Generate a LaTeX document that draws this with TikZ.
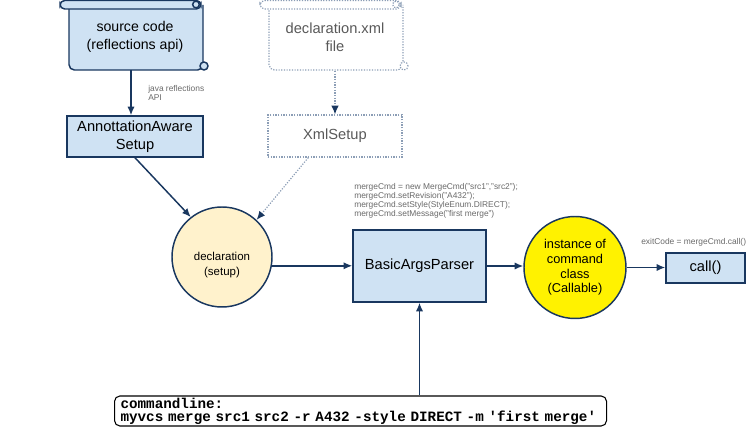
\documentclass[tikz,border=0pt]{standalone}
\usepackage{fontspec}
\setmainfont{Liberation Sans}
\newfontfamily\cmdfont{Liberation Mono}[BoldFont={Liberation Mono Bold}]
\usetikzlibrary{arrows.meta,positioning}
\definecolor{navy}{RGB}{25,55,95}
\definecolor{boxfill}{RGB}{207,226,243}
\definecolor{declfill}{RGB}{255,242,204}
\definecolor{dotgray}{RGB}{140,158,182}
\definecolor{notegray}{RGB}{105,105,105}

\begin{document}
\begin{tikzpicture}[
      x=0.75pt, y=-0.75pt,
      box/.style={rectangle, draw=navy, fill=boxfill, line width=1.1pt, align=center, inner sep=0pt, font=\fontsize{11}{13.5}\selectfont},
      dotbox/.style={rectangle, draw=dotgray, line width=0.9pt, dash pattern=on 0.9pt off 1.1pt, align=center, inner sep=0pt, text=black!65, font=\fontsize{11}{13.5}\selectfont},
      circ/.style={circle, draw=navy, line width=1.1pt, align=center, inner sep=0pt, font=\fontsize{9.6}{11}\selectfont},
      note/.style={inner sep=0pt, align=left, text=notegray, font=\fontsize{6.3}{6.75}\selectfont},
      arrow/.style={-{Latex[length=6.5pt,width=5.5pt]}, draw=navy, line width=1.1pt},
      dotarrow/.style={-{Latex[length=6.5pt,width=5.5pt,color=navy]}, draw=dotgray, line width=0.9pt, dash pattern=on 0.9pt off 1.1pt},
      scroll/.pic={
        \path[pic actions, rounded corners=4pt] (69,5) -- (69,70) -- (203,70) -- (203,5);
        \path[pic actions, rounded corners=3.5pt] (60,0.5) rectangle (201,9);
        \path[pic actions] (196,4.5) circle[radius=2.5pt];
        \path[pic actions] (204,66) circle[radius=3pt];
      }
    ]
      \useasboundingbox (0,0) rectangle (751,427);

      % scrolls on top
      \pic[draw=navy, fill=boxfill, line width=1.1pt] at (0,0) {scroll};
      \pic[draw=dotgray, fill=white, line width=0.9pt, dash pattern=on 0.9pt off 1.1pt] at (200,0) {scroll};
      \node[align=center, font=\fontsize{10.6}{13.5}\selectfont] (src) at (135,37) {source code\\(reflections api)};
      \node[align=center, text=black!65, font=\fontsize{11}{13.5}\selectfont] (xml) at (335,37) {declaration.xml\\file};
      \coordinate (srcfoot) at (131,70);
      \coordinate (xmlfoot) at (335,71);

      % setup boxes
      \node[box, minimum width=102pt, minimum height=30.75pt] (aware) at (135,136.5) {AnnottationAware\\Setup};
      \node[dotbox, minimum width=100.5pt, minimum height=31.5pt] (xmlsetup) at (335,136) {XmlSetup};
      \node[note, anchor=north west] (javanote) at (148,85) {java reflections\\API};

      % main row
      \node[circ, fill=declfill, minimum size=75pt] (decl) at (222,257) {};
      \node[align=center, inner sep=0pt, font=\fontsize{8.6}{11}\selectfont] (decltext) at (222,265) {declaration\\(setup)};
      \node[box, minimum width=99.75pt, minimum height=54pt] (parser) at (419.5,266) {BasicArgsParser};
      \node[circ, fill=yellow, minimum size=76.5pt] (inst) at (575,267.5) {instance of\\command\\class\\(Callable)};
      \node[box, minimum width=59.25pt, minimum height=22.5pt] (call) at (705.5,268) {call()};
      \node[note, anchor=north west] (codenote) at (354,183) {mergeCmd = new MergeCmd("src1","src2");\\mergeCmd.setRevision("A432");\\mergeCmd.setStyle(StyleEnum.DIRECT);\\mergeCmd.setMessage("first merge")};
      \node[note, anchor=west] (exitnote) at (641,242) {exitCode = mergeCmd.call()};

      % command line
      \node[draw=black, line width=0.8pt, rounded corners=4pt, fill=white, anchor=west, minimum height=22.5pt, text width=360pt, inner xsep=4.5pt, inner ysep=0pt, align=left, font=\cmdfont\bfseries\fontsize{10.7}{9.75}\selectfont] (cmd) at (114,411) {commandline:\\myvcs merge src1 src2 -r A432 -style DIRECT -m 'first merge'};

      \draw[arrow] (srcfoot) -- (srcfoot |- aware.north);
      \draw[dotarrow] (xmlfoot) -- (xmlfoot |- xmlsetup.north);
      \draw[arrow] (aware.south) -- (decl.128);
      \draw[dotarrow] ([xshift=-20pt]xmlsetup.south) -- (decl.47);
      \draw[arrow] (decl.-10) -- (decl.-10 -| parser.west);
      \draw[arrow] (parser.east) -- (parser.east -| inst.west);
      \draw[arrow] (inst.east) -- (call.west |- inst.east);
      \draw[arrow] (parser.south |- cmd.north) -- (parser.south);
    \end{tikzpicture}
\end{document}
